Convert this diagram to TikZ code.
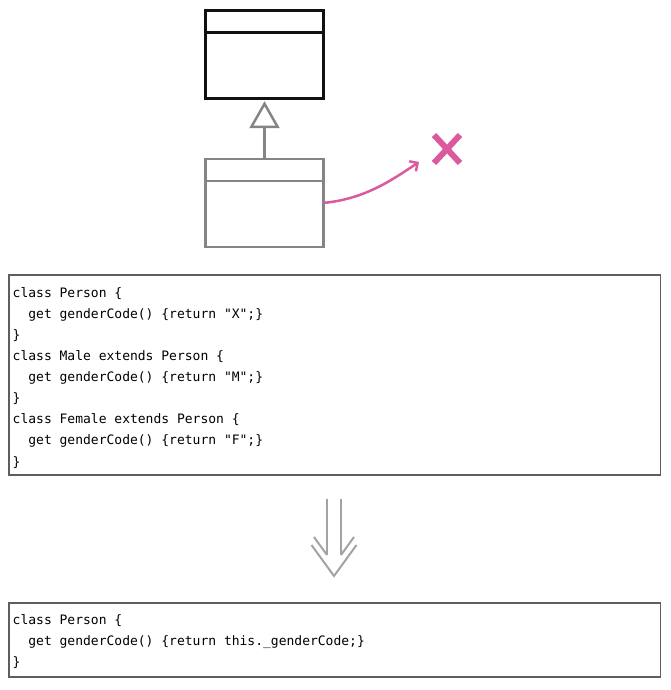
\documentclass[tikz,border=0pt]{standalone}
\usepackage{fontspec}
\newfontfamily\codefont{DejaVu Sans Mono}
\usepackage{xcolor}
\definecolor{superDark}{HTML}{111111}
\definecolor{subGray}{HTML}{858585}
\definecolor{markPink}{HTML}{DB5A9E}
\definecolor{codeFrame}{HTML}{5E5E5E}
\definecolor{refGray}{HTML}{A3A3A3}
\usepackage{tikz}
\usetikzlibrary{positioning,arrows.meta,shapes.misc}
\tikzset{%
  classBox/.style={%
    rectangle,
    draw=superDark,
    line width=2.5pt,
    outer sep=0pt,
    minimum width=118pt,
    minimum height=88pt
  },
  subBox/.style={%
    classBox,
    draw=subGray
  },
  inheritLine/.style={%
    -{Triangle[open,length=27pt,width=30pt]},
    shorten >=2.5pt,
    line width=2.5pt,
    color=subGray
  },
  pinkArrow/.style={%
    -{Straight Barb[length=6pt,width=12pt]},
    line width=2.5pt,
    color=markPink
  },
  stopMark/.style={%
    cross out,
    draw=markPink,
    line width=6pt,
    inner sep=0pt,
    minimum width=20pt,
    minimum height=22pt
  },
  codeBox/.style={%
    rectangle,
    draw=codeFrame,
    line width=1.2pt,
    outer sep=0pt,
    minimum width=651.5pt,
    anchor=north west
  },
  codeText/.style={%
    anchor=base west,
    inner sep=0pt,
    text width=640pt,
    align=flush left,
    font=\codefont\fontsize{13}{21.13}\selectfont
  },
  refactorArrow/.style={%
    line width=2pt,
    color=refGray
  }
}

\begin{document}
\begin{tikzpicture}[x=1pt,y=-1pt]
  \useasboundingbox (0,0) rectangle (670,690);

  % class hierarchy
  \node[classBox] (person) at (264.5,54.7) {};
  \draw[line width=2.5pt, draw=superDark] ([yshift=-21.6pt]person.north west) -- ([yshift=-21.6pt]person.north east);
  \node[subBox, below=60.2pt of person] (male) {};
  \draw[line width=2.5pt, draw=subGray] ([yshift=-22pt]male.north west) -- ([yshift=-22pt]male.north east);
  \draw[inheritLine] (male) -- (person);

  \node[stopMark] (veto) at (447,149) {};
  \coordinate (vetoTip) at (419,162);
  \draw[pinkArrow] (male.east) .. controls (365,199) and (392,180) .. (vetoTip);

  % before
  \node[codeBox, minimum height=200pt] (oldBox) at (9,275) {};
  \node[codeText] (oldCode) at ([shift={(3.5pt,-22pt)}]oldBox.north west) {%
    class Person \{\\
    ~~get genderCode() \{return "X";\}\\
    \}\\
    class Male extends Person \{\\
    ~~get genderCode() \{return "M";\}\\
    \}\\
    class Female extends Person \{\\
    ~~get genderCode() \{return "F";\}\\
    \}};

  % refactoring arrow
  \draw[refactorArrow] (327,499) -- (327,555);
  \draw[refactorArrow] (341,499) -- (341,555);
  \draw[refactorArrow] (314,537) -- (327,555);
  \draw[refactorArrow] (354,537) -- (341,555);
  \draw[refactorArrow] (311.5,545) -- (334,576) -- (356.5,545);

  % after
  \node[codeBox, minimum height=74pt] (newBox) at (9,603) {};
  \node[codeText] (newCode) at ([shift={(3.5pt,-21pt)}]newBox.north west) {%
    class Person \{\\
    ~~get genderCode() \{return this.\_genderCode;\}\\
    \}};
\end{tikzpicture}
\end{document}
